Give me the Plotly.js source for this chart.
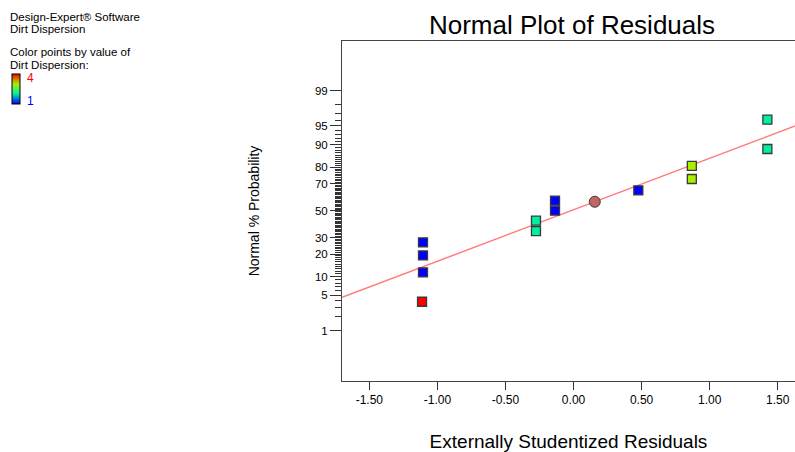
<!DOCTYPE html>
<html>
<head>
<meta charset="utf-8">
<script src="https://cdn.plot.ly/plotly-3.0.1.min.js"></script>
<style>html,body{margin:0;padding:0;background:#fff;}#chart{width:795px;height:452px;}</style>
</head>
<body>
<div id="chart"></div>
<script>
// ---- data ----
var residuals   = [-1.113, -1.106, -1.106, -1.106, -0.276, -0.276, -0.136, -0.136, 0.476, 0.869, 0.869, 1.424, 1.424];
var probability = [3.85, 11.54, 19.23, 26.92, 34.62, 42.31, 50.00, 57.69, 65.38, 73.08, 80.77, 88.46, 96.15];
var dirtValue   = [4, 1, 1, 1, 2, 2, 1, 1, 1, 3, 3, 2, 2];
var circleX     = [0.156];
var circleP     = [56.9];
var lineX       = [-1.70, 1.627];
var lineP       = [4.63, 95.0];
var yTickPct    = [1, 5, 10, 20, 30, 50, 70, 80, 90, 95, 99];
var xTickVals   = [-1.5, -1.0, -0.5, 0, 0.5, 1.0, 1.5];
var xTickText   = ['-1.50', '-1.00', '-0.50', '0.00', '0.50', '1.00', '1.50'];

// inverse standard normal CDF (Acklam)
function qnorm(p) {
  var a=[-3.969683028665376e+01,2.209460984245205e+02,-2.759285104469687e+02,1.383577518672690e+02,-3.066479806614716e+01,2.506628277459239e+00];
  var b=[-5.447609879822406e+01,1.615858368580409e+02,-1.556989798598866e+02,6.680131188771972e+01,-1.328068155288572e+01];
  var c=[-7.784894002430293e-03,-3.223964580411365e-01,-2.400758277161838e+00,-2.549732539343734e+00,4.374664141464968e+00,2.938163982698783e+00];
  var d=[7.784695709041462e-03,3.224671290700398e-01,2.445134137142996e+00,3.754408661907416e+00];
  var plow=0.02425, phigh=1-plow, q, r;
  if (p < plow) { q=Math.sqrt(-2*Math.log(p)); return (((((c[0]*q+c[1])*q+c[2])*q+c[3])*q+c[4])*q+c[5])/((((d[0]*q+d[1])*q+d[2])*q+d[3])*q+1); }
  if (p > phigh) { q=Math.sqrt(-2*Math.log(1-p)); return -(((((c[0]*q+c[1])*q+c[2])*q+c[3])*q+c[4])*q+c[5])/((((d[0]*q+d[1])*q+d[2])*q+d[3])*q+1); }
  q=p-0.5; r=q*q;
  return (((((a[0]*r+a[1])*r+a[2])*r+a[3])*r+a[4])*r+a[5])*q/(((((b[0]*r+b[1])*r+b[2])*r+b[3])*r+b[4])*r+1);
}
function toZ(arr){ return arr.map(function(v){ return qnorm(v/100); }); }

var minorPct = [];
for (var k = 2; k <= 98; k++) { if (yTickPct.indexOf(k) < 0) minorPct.push(k); }

var FONT = '"Liberation Sans", Arial, sans-serif';
// layout helpers: plot area is 342..795 px wide, 41..381 px tall
function px(p){ return (p - 342) / 453; }
function py(p){ return (381 - p) / 340; }

var traces = [
  { type:'scatter', mode:'lines', x: lineX, y: toZ(lineP), hoverinfo:'skip',
    line:{color:'#ff7f7f', width:1.5}, showlegend:false },
  { type:'scatter', mode:'markers', x: residuals, y: toZ(probability), showlegend:false,
    marker:{ symbol:'square', size:9, color: dirtValue, cmin:1, cmax:4,
      colorscale:[[0,'#0000ff'],[0.3333,'#00f0a0'],[0.6667,'#a8f000'],[1,'#ff0000']],
      line:{color:'#3a3a3a', width:1.3},
      showscale:true,
      colorbar:{ x: px(12), xanchor:'left', y: py(74), yanchor:'top', len:30, lenmode:'pixels',
        thickness:8, xpad:0, ypad:0, outlinewidth:1, outlinecolor:'#000',
        showticklabels:false, ticks:'' } } },
  { type:'scatter', mode:'markers', x: circleX, y: toZ(circleP), showlegend:false,
    marker:{ symbol:'circle', size:11, color:'#c46464', line:{color:'#3a3a3a', width:1} } }
];

var legendFont = {family:FONT, size:11.5, color:'#000'};

var layout = {
  width:795, height:452,
  margin:{l:342, r:0, t:41, b:71, pad:0},
  paper_bgcolor:'#fff', plot_bgcolor:'#fff',
  font:{family:FONT, color:'#000', size:11},
  title:{ text:'Normal Plot of Residuals', font:{family:FONT, size:26, color:'#000'},
    xref:'paper', x: px(572), xanchor:'center', yref:'container', y: 1 - 25/452, yanchor:'middle' },
  xaxis:{ range:[-1.701, 1.627], tickmode:'array', tickvals:xTickVals, ticktext:xTickText,
    ticks:'outside', ticklen:8, tickwidth:1, tickcolor:'#333', tickfont:{family:FONT, size:12, color:'#000'},
    showline:true, linecolor:'#444', linewidth:1, mirror:true, showgrid:false, zeroline:false,
    title:{ text:'Externally Studentized Residuals', font:{family:FONT, size:19, color:'#000'}, standoff:36 } },
  yaxis:{ range:[-3.307, 3.295], tickmode:'array', tickvals: toZ(yTickPct), ticktext: yTickPct.map(String),
    ticks:'outside', ticklen:11, tickwidth:1, tickcolor:'#333', tickfont:{family:FONT, size:11.5, color:'#000'},
    minor:{ tickmode:'array', tickvals: toZ(minorPct), ticks:'outside', ticklen:6, tickwidth:1, tickcolor:'#333', showgrid:false },
    showline:true, linecolor:'#444', linewidth:1, mirror:false, showgrid:false, zeroline:false,
    title:{ text:'Normal % Probability', font:{family:FONT, size:14, color:'#000'}, standoff:52 } },
  annotations:[
    { text:'Design-Expert® Software', xref:'paper', yref:'paper', x:px(8), y:py(16.5), xanchor:'left', yanchor:'middle', showarrow:false, font:legendFont },
    { text:'Dirt Dispersion', xref:'paper', yref:'paper', x:px(8), y:py(29.5), xanchor:'left', yanchor:'middle', showarrow:false, font:legendFont },
    { text:'Color points by value of', xref:'paper', yref:'paper', x:px(8), y:py(51.5), xanchor:'left', yanchor:'middle', showarrow:false, font:legendFont },
    { text:'Dirt Dispersion:', xref:'paper', yref:'paper', x:px(8), y:py(64.5), xanchor:'left', yanchor:'middle', showarrow:false, font:legendFont },
    { text:'4', xref:'paper', yref:'paper', x:px(25), y:py(78), xanchor:'left', yanchor:'middle', showarrow:false, font:{family:FONT, size:12, color:'#ff0000'} },
    { text:'1', xref:'paper', yref:'paper', x:px(25), y:py(101), xanchor:'left', yanchor:'middle', showarrow:false, font:{family:FONT, size:12, color:'#0000ff'} }
  ]
};

Plotly.newPlot('chart', traces, layout, {displayModeBar:false, staticPlot:true});
</script>
</body>
</html>
